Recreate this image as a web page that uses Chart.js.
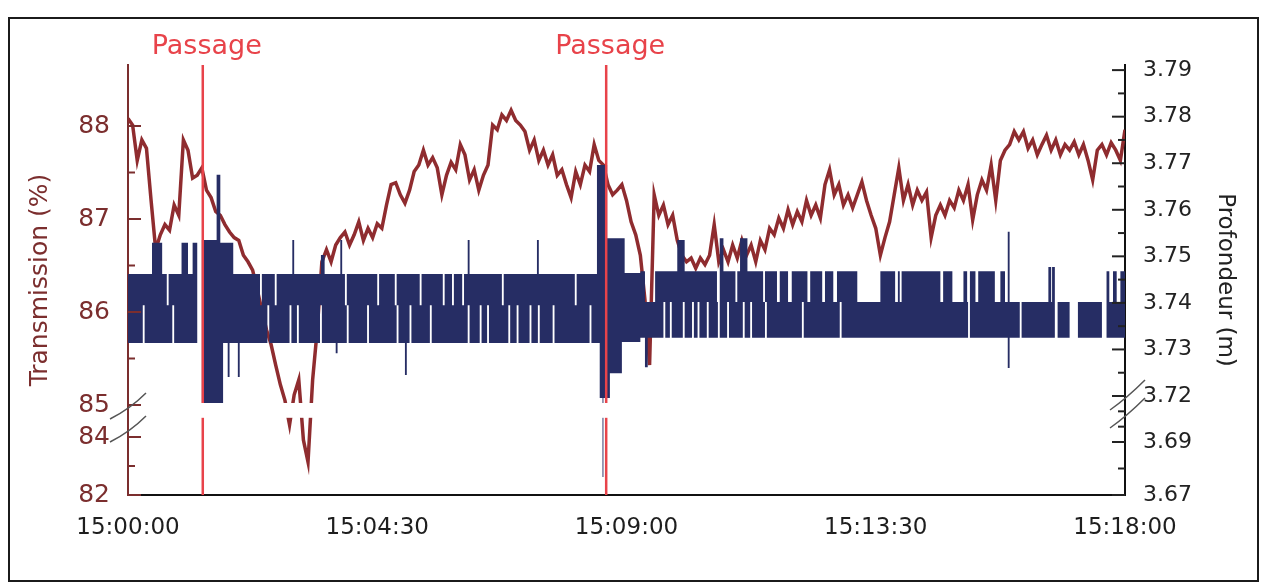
<!DOCTYPE html>
<html lang="fr">
<head>
<meta charset="UTF-8" />
<title>Transmission et profondeur</title>
<style>
  html, body { margin: 0; padding: 0; background: #fff; }
  #wrap { position: relative; width: 1266px; height: 585px; }
  #frame { position: absolute; left: 8px; top: 17px; width: 1247px; height: 561px;
           border: 2px solid #1b1b1b; pointer-events: none; }
</style>
</head>
<body>
<div id="wrap">
  <canvas id="chart" width="1266" height="585"></canvas>
  <div id="frame"></div>
</div>
<script src="https://cdn.jsdelivr.net/npm/chart.js"></script>
<script>
// time in seconds after 15:00:00
var startHour = 15;
var timeTicks = [0, 270, 540, 810, 1080];
var passageTimes = [81, 518];
var passageText = "Passage";

// transmission (%), one reading every 5 s
var transStep = 5;
var transValues = [
  88.08, 88.01, 87.63, 87.85, 87.76, 87.20, 86.67, 86.83, 86.94, 86.88,
  87.15, 87.04, 87.85, 87.74, 87.44, 87.47, 87.55, 87.31, 87.23, 87.08,
  87.04, 86.94, 86.86, 86.80, 86.77, 86.61, 86.54, 86.45, 86.24, 86.02,
  85.81, 85.65, 85.43, 85.22, 85.05, 84.38, 85.11, 85.27, 83.90, 83.14,
  85.27, 85.81, 86.54, 86.67, 86.54, 86.72, 86.80, 86.86, 86.72, 86.83,
  86.97, 86.77, 86.90, 86.80, 86.95, 86.90, 87.15, 87.37, 87.39, 87.26,
  87.17, 87.31, 87.51, 87.58, 87.74, 87.58, 87.66, 87.55, 87.26, 87.47,
  87.61, 87.53, 87.80, 87.69, 87.42, 87.53, 87.31, 87.47, 87.58, 88.01,
  87.96, 88.12, 88.06, 88.17, 88.06, 88.01, 87.94, 87.74, 87.85, 87.63,
  87.74, 87.58, 87.69, 87.47, 87.53, 87.37, 87.23, 87.51, 87.37, 87.58,
  87.51, 87.80, 87.63, 87.58, 87.37, 87.26, 87.31, 87.37, 87.20, 86.97,
  86.83, 86.61, 86.13, 85.43, 87.26, 87.04, 87.15, 86.94, 87.04, 86.77,
  86.61, 86.54, 86.58, 86.47, 86.58, 86.51, 86.61, 86.94, 86.54, 86.67,
  86.54, 86.72, 86.58, 86.77, 86.61, 86.72, 86.54, 86.77, 86.67, 86.90,
  86.83, 87.01, 86.90, 87.10, 86.94, 87.08, 86.97, 87.20, 87.04, 87.15,
  87.01, 87.37, 87.53, 87.26, 87.37, 87.15, 87.26, 87.12, 87.26, 87.40,
  87.20, 87.04, 86.90, 86.61, 86.80, 86.97, 87.26, 87.55, 87.20, 87.37,
  87.15, 87.31, 87.20, 87.29, 86.80, 87.04, 87.15, 87.04, 87.20, 87.12,
  87.31, 87.20, 87.37, 86.99, 87.26, 87.42, 87.31, 87.58, 87.20, 87.63,
  87.74, 87.80, 87.94, 87.85, 87.94, 87.76, 87.85, 87.69, 87.80, 87.90,
  87.74, 87.85, 87.69, 87.80, 87.74, 87.83, 87.69, 87.80, 87.63, 87.42,
  87.74, 87.80, 87.69, 87.82, 87.74, 87.63, 87.96
];

// depth (m): the sensor flickers between levels, kept as the lower and
// upper edge of the band, [seconds, metres], each value held until the next
var depthLow = [
  [0, 3.7314], [16, 3.7395], [18, 3.7314], [48, 3.7395], [50, 3.7314],
  [80, 3.7154], [103, 3.7314], [108, 3.7241], [110, 3.7314], [119, 3.7241], [121, 3.7314],
  [151, 3.7395], [153, 3.7314], [175, 3.7395], [177, 3.7314], [183, 3.7395], [185, 3.7314],
  [208, 3.7395], [210, 3.7314], [225, 3.7292], [227, 3.7314], [237, 3.7395], [239, 3.7314],
  [259, 3.7395], [261, 3.7314], [291, 3.7395], [293, 3.7314], [300, 3.7245], [302, 3.7314],
  [305, 3.7395], [307, 3.7314], [327, 3.7395], [329, 3.7314], [368, 3.7395], [370, 3.7314],
  [381, 3.7395], [383, 3.7314], [389, 3.7395], [391, 3.7314], [412, 3.7395], [414, 3.7314],
  [421, 3.7395], [423, 3.7314], [435, 3.7395], [437, 3.7314], [444, 3.7395], [446, 3.7314],
  [460, 3.7395], [462, 3.7314], [500, 3.7395], [502, 3.7314],
  [511, 3.7187], [514, 3.6768], [515, 3.7187], [522, 3.7249], [535, 3.7316],
  [555, 3.7325], [560, 3.7262], [563, 3.7325], [580, 3.7402], [582, 3.7325],
  [587, 3.7402], [589, 3.7325], [601, 3.7402], [603, 3.7325], [611, 3.7402], [613, 3.7325],
  [617, 3.7402], [619, 3.7325], [627, 3.7402], [629, 3.7325], [639, 3.7402], [641, 3.7325],
  [649, 3.7402], [651, 3.7325], [666, 3.7402], [668, 3.7325], [674, 3.7402], [676, 3.7325],
  [690, 3.7402], [692, 3.7325], [730, 3.7402], [732, 3.7325], [771, 3.7402], [773, 3.7325],
  [910, 3.7402], [912, 3.7325], [953, 3.7260], [955, 3.7325], [966, 3.7402], [968, 3.7325],
  [1004, 3.7402], [1007, 3.7325], [1020, 3.7402], [1029, 3.7325], [1055, 3.7402], [1060, 3.7325],
  [1080, 3.7325]
];
var depthHigh = [
  [0, 3.7462], [26, 3.7529], [37, 3.7462], [42, 3.7395], [44, 3.7462],
  [58, 3.7529], [65, 3.7462], [70, 3.7529], [75, 3.7314], [80, 3.7535],
  [96, 3.7675], [100, 3.7529], [114, 3.7462], [143, 3.7395], [145, 3.7462],
  [159, 3.7395], [161, 3.7462], [178, 3.7535], [180, 3.7462], [209, 3.7503], [213, 3.7462],
  [230, 3.7535], [232, 3.7462], [235, 3.7395], [237, 3.7462], [270, 3.7395], [272, 3.7462],
  [289, 3.7395], [291, 3.7462], [316, 3.7395], [318, 3.7462], [341, 3.7395], [343, 3.7462],
  [351, 3.7395], [353, 3.7462], [362, 3.7395], [364, 3.7462], [368, 3.7535], [370, 3.7462],
  [405, 3.7395], [407, 3.7462], [443, 3.7535], [445, 3.7462], [484, 3.7395], [486, 3.7462],
  [508, 3.7696], [519, 3.7539], [538, 3.7464], [555, 3.7468], [560, 3.7402], [571, 3.7468],
  [595, 3.7535], [603, 3.7468], [638, 3.7402], [641, 3.7539], [645, 3.7468],
  [658, 3.7402], [660, 3.7468], [663, 3.7539], [671, 3.7468], [688, 3.7402], [690, 3.7468],
  [703, 3.7402], [706, 3.7468], [715, 3.7402], [719, 3.7468], [736, 3.7402], [739, 3.7468],
  [752, 3.7402], [755, 3.7468], [764, 3.7402], [768, 3.7468], [790, 3.7402], [815, 3.7468],
  [831, 3.7402], [834, 3.7468], [836, 3.7402], [838, 3.7468], [880, 3.7402], [883, 3.7468],
  [893, 3.7402], [905, 3.7468], [909, 3.7402], [912, 3.7468], [918, 3.7402], [921, 3.7468],
  [939, 3.7402], [945, 3.7468], [950, 3.7402], [953, 3.7553], [955, 3.7402],
  [997, 3.7477], [1000, 3.7402], [1001, 3.7477], [1004, 3.7402],
  [1060, 3.7468], [1063, 3.7402], [1067, 3.7468], [1071, 3.7402], [1075, 3.7468], [1080, 3.7468]
];

// both vertical axes are broken: value -> height knots
var transKnots = [[82, 0], [84, 58], [85, 90], [88.656, 430]];
var depthKnots = [[3.67, 0], [3.69, 53], [3.72, 99], [3.7911, 430]];
var transTicks = [82, 84, 85, 86, 87, 88];
var transMinor = [83, 85.5, 86.5, 87.5];
var depthTicks = [3.67, 3.69, 3.72, 3.73, 3.74, 3.75, 3.76, 3.77, 3.78, 3.79];
var depthMinor = [3.68, 3.70, 3.71, 3.725, 3.735, 3.745, 3.755, 3.765, 3.775, 3.785];

var brown = "#7b2e2e";
var navy = "#262d64";
var red = "#e8434a";

function piece(knots, v) {
  for (var i = 1; i < knots.length; i++) {
    if (v <= knots[i][0] || i == knots.length - 1) {
      var a = knots[i - 1], b = knots[i];
      return a[1] + (v - a[0]) * (b[1] - a[1]) / (b[0] - a[0]);
    }
  }
}

function clock(sec) {
  var m = Math.floor(sec / 60), s = sec % 60;
  return startHour + ":" + String(m).padStart(2, "0") + ":" + String(s).padStart(2, "0");
}

var transData = transValues.map(function (v, i) {
  return { x: i * transStep, y: piece(transKnots, v) };
});
var lowData = depthLow.map(function (p) { return { x: p[0], y: piece(depthKnots, p[1]) }; });
var highData = depthHigh.map(function (p) { return { x: p[0], y: piece(depthKnots, p[1]) }; });
var passageData = [];
passageTimes.forEach(function (t) {
  passageData.push({ x: t, y: 0 }, { x: t, y: 430 }, { x: t, y: null });
});

var decorations = {
  id: "decorations",
  afterDatasetsDraw: function (chart) {
    // white strip where both axes are cut
    var ctx = chart.ctx, a = chart.chartArea, yT = chart.scales.yT;
    var top = yT.getPixelForValue(piece(transKnots, 85)) - 2;
    var bottom = yT.getPixelForValue(piece(transKnots, 84.6));
    ctx.save();
    ctx.fillStyle = "#fff";
    ctx.fillRect(a.left + 2, top, a.right - a.left - 4, bottom - top);
    ctx.restore();
  },
  afterDraw: function (chart) {
    var ctx = chart.ctx, a = chart.chartArea;
    var yT = chart.scales.yT, yD = chart.scales.yD, x = chart.scales.x;
    ctx.save();
    // inward ticks
    ctx.lineWidth = 2;
    ctx.strokeStyle = brown;
    transTicks.concat(transMinor).forEach(function (v, i) {
      var py = yT.getPixelForValue(piece(transKnots, v));
      var len = i < transTicks.length ? 13 : 7;
      ctx.beginPath(); ctx.moveTo(a.left, py); ctx.lineTo(a.left + len, py); ctx.stroke();
    });
    ctx.strokeStyle = "#222";
    depthTicks.concat(depthMinor).forEach(function (v, i) {
      var py = yD.getPixelForValue(piece(depthKnots, v));
      var len = i < depthTicks.length ? 13 : 7;
      ctx.beginPath(); ctx.moveTo(a.right, py); ctx.lineTo(a.right - len, py); ctx.stroke();
    });
    // break marks
    ctx.lineWidth = 1.5;
    ctx.strokeStyle = "#555";
    var lc = yT.getPixelForValue(piece(transKnots, 85));
    [lc, lc + 23].forEach(function (c) {
      ctx.beginPath();
      ctx.moveTo(a.left - 18, c + 14);
      ctx.quadraticCurveTo(a.left + 2, c + 4, a.left + 18, c - 12);
      ctx.stroke();
    });
    var rc = yD.getPixelForValue(piece(depthKnots, 3.72));
    [rc - 2, rc + 16].forEach(function (c) {
      ctx.beginPath();
      ctx.moveTo(a.right - 15, c + 16);
      ctx.quadraticCurveTo(a.right + 2, c + 4, a.right + 20, c - 14);
      ctx.stroke();
    });
    // passage labels
    ctx.fillStyle = red;
    ctx.font = "27px 'DejaVu Sans', sans-serif";
    ctx.textAlign = "center";
    ctx.textBaseline = "middle";
    passageTimes.forEach(function (t) {
      ctx.fillText(passageText, x.getPixelForValue(t) + 4, 47);
    });
    ctx.restore();
  }
};

Chart.defaults.font.family = "'DejaVu Sans', sans-serif";

new Chart(document.getElementById("chart"), {
  type: "line",
  data: {
    datasets: [
      { label: "Transmission (%)", data: transData, yAxisID: "yT",
        borderColor: "#8f2c2f", borderWidth: 3.5, pointRadius: 0, fill: false, order: 2 },
      { label: "Profondeur min", data: lowData, yAxisID: "yD", stepped: true,
        borderColor: "transparent", borderWidth: 0, pointRadius: 0, fill: false, order: 1 },
      { label: "Profondeur (m)", data: highData, yAxisID: "yD", stepped: true,
        borderColor: "transparent", borderWidth: 0, pointRadius: 0,
        fill: 1, backgroundColor: navy, order: 1 },
      { label: passageText, data: passageData, yAxisID: "yT", spanGaps: false,
        borderColor: red, borderWidth: 2.5, pointRadius: 0, fill: false, order: 0 }
    ]
  },
  options: {
    responsive: false,
    animation: false,
    layout: { padding: { top: 65, left: 0, right: 0, bottom: 0 } },
    plugins: { legend: { display: false }, tooltip: { enabled: false } },
    scales: {
      x: {
        type: "linear", min: 0, max: 1080,
        afterBuildTicks: function (s) { s.ticks = timeTicks.map(function (v) { return { value: v }; }); },
        afterFit: function (s) { s.height = 90; },
        ticks: { callback: function (v) { return clock(v); }, autoSkip: false, maxRotation: 0,
                 padding: 19, color: "#1e1e1e", font: { size: 23 } },
        grid: { drawOnChartArea: false, drawTicks: false },
        border: { color: "#111", width: 2 }
      },
      yT: {
        type: "linear", position: "left", min: 0, max: 430,
        afterBuildTicks: function (s) {
          s.ticks = transTicks.map(function (v) { return { value: piece(transKnots, v) }; });
        },
        afterFit: function (s) { s.width = 128; },
        ticks: { callback: function (v, i) { return String(transTicks[i]); }, autoSkip: false,
                 padding: 18, color: brown, font: { size: 25 } },
        grid: { drawOnChartArea: false, drawTicks: false },
        border: { color: brown, width: 2 },
        title: { display: true, text: "Transmission (%)", color: brown,
                 font: { size: 25 }, padding: { top: 25, bottom: 0 } }
      },
      yD: {
        type: "linear", position: "right", min: 0, max: 430,
        afterBuildTicks: function (s) {
          s.ticks = depthTicks.map(function (v) { return { value: piece(depthKnots, v) }; });
        },
        afterFit: function (s) { s.width = 141; },
        ticks: { callback: function (v, i) { return depthTicks[i].toFixed(2); }, autoSkip: false,
                 padding: 18, color: "#222", font: { size: 22 } },
        grid: { drawOnChartArea: false, drawTicks: false },
        border: { color: "#111", width: 2 },
        title: { display: true, text: "Profondeur (m)", color: "#222",
                 font: { size: 23 }, padding: { top: 27, bottom: 0 } }
      }
    }
  },
  plugins: [decorations]
});
</script>
</body>
</html>
